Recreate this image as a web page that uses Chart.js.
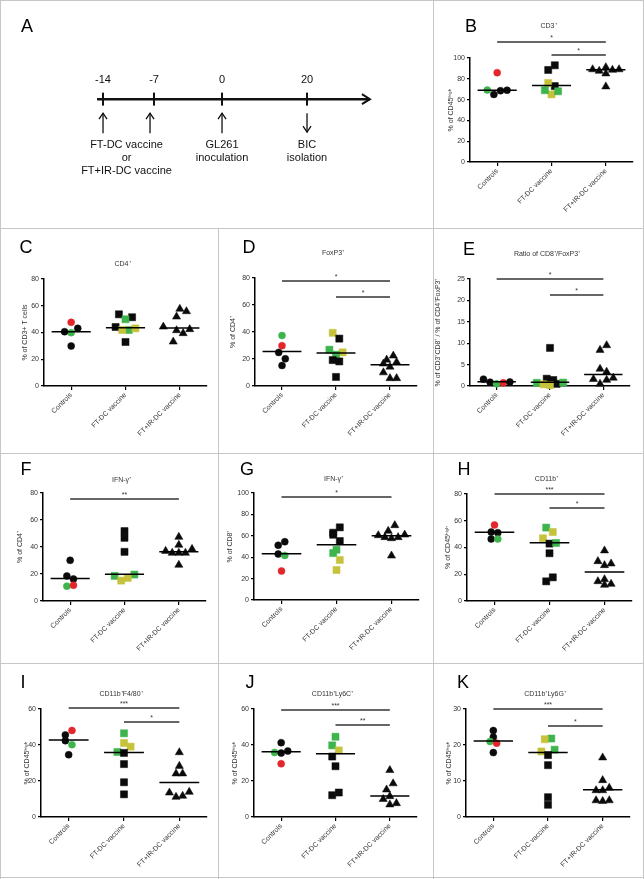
<!DOCTYPE html>
<html>
<head>
<meta charset="utf-8">
<script src="https://cdn.jsdelivr.net/npm/chart.js@4.4.1/dist/chart.umd.min.js"></script>
<style>
html,body{margin:0;padding:0;background:#fff;}
#fig{position:relative;width:644px;height:879px;overflow:hidden;background:#fff;}
.cell{position:absolute;}
.cell canvas{position:absolute;left:0;top:0;}
.ln{position:absolute;background:#c6c6c6;z-index:5;}
</style>
</head>
<body>
<div id="fig"></div>
<script>
// ---------------- DATA ----------------
const categories = ['Controls', 'FT-DC vaccine', 'FT+IR-DC vaccine'];
// each point: [value, colour code (k black, r red, g green, y yellow), jitter step]
const cd3Controls = [[69.2,'g',-3],[65.0,'k',-1],[68.6,'k',1],[69.0,'k',3],[85.9,'r',0]];
const cd3FTDC = [[88.5,'k',-1],[93.0,'k',1],[73.0,'k',1],[76.0,'y',-1],[65.0,'y',0],[69.0,'g',-2],[68.0,'g',2]];
const cd3FTIR = [[89.0,'k',-4],[87.5,'k',-2],[91.0,'k',0],[85.0,'k',0],[88.5,'k',2],[89.0,'k',4],[72.5,'k',0]];
const cd3Medians = [69.0, 73.5, 88.8];
const cd3Sig = [[0,2,'*'],[1,2,'*']];

const cd4Controls = [[47.6,'r',0],[39.9,'g',0],[40.6,'k',-2],[43.1,'k',2],[29.9,'k',0]];
const cd4FTDC = [[53.6,'k',-2],[51.4,'k',2],[44.1,'k',-3],[32.9,'k',0],[49.9,'g',0],[41.9,'g',1],[41.9,'y',-1],[43.1,'y',3]];
const cd4FTIR = [[57.6,'k',0],[55.8,'k',2],[51.8,'k',-1],[44.3,'k',-5],[41.6,'k',-1],[39.4,'k',1],[42.4,'k',3],[33.1,'k',-2]];
const cd4Medians = [40.5, 43.6, 43.4];
const cd4Sig = [];

const foxControls = [[37.4,'g',0],[29.9,'r',0],[24.9,'k',-1],[20.2,'k',1],[15.2,'k',0]];
const foxFTDC = [[39.4,'y',-1],[35.1,'k',1],[26.9,'g',-2],[24.9,'y',2],[23.2,'g',0],[19.2,'k',-1],[18.2,'k',1],[6.7,'k',0]];
const foxFTIR = [[22.4,'k',1],[19.4,'k',-1],[17.7,'k',2],[16.5,'k',-2],[14.2,'k',0],[10.0,'k',-2],[5.7,'k',0],[5.7,'k',2]];
const foxMedians = [25.5, 24.4, 15.7];
const foxSig = [[0,2,'*'],[1,2,'*']];

const ratioControls = [[1.6,'k',-4],[0.9,'k',-2],[0.5,'g',0],[0.75,'r',2],[0.95,'k',4]];
const ratioFTDC = [[8.9,'k',0],[1.7,'k',-1],[1.4,'k',1],[0.5,'k',2],[0.75,'g',-4],[0.8,'g',4],[0.4,'y',-2],[0.2,'y',0]];
const ratioFTIR = [[9.5,'k',1],[8.4,'k',-1],[4.0,'k',-1],[3.3,'k',1],[1.9,'k',3],[1.6,'k',-3],[1.4,'k',1],[0.5,'k',-1]];
const ratioMedians = [1.0, 0.9, 2.7];
const ratioSig = [[0,2,'*'],[1,2,'*']];

const ifn4Controls = [[30.1,'k',0],[18.5,'k',-1],[16.3,'k',1],[11.0,'g',-1],[11.7,'r',1]];
const ifn4FTDC = [[51.8,'k',0],[46.8,'k',0],[36.4,'k',0],[18.6,'g',-3],[19.6,'g',3],[15.1,'y',-1],[17.1,'y',1]];
const ifn4FTIR = [[47.4,'k',0],[41.5,'k',0],[37.0,'k',-4],[35.6,'k',-2],[35.6,'k',0],[35.6,'k',2],[38.5,'k',4],[26.7,'k',0]];
const ifn4Medians = [16.6, 19.8, 36.5];
const ifn4Sig = [[0,2,'**']];

const ifn8Controls = [[54.5,'k',1],[51.1,'k',-1],[43.0,'k',-1],[41.7,'g',1],[27.1,'r',0]];
const ifn8FTDC = [[67.9,'k',1],[62.9,'k',-1],[61.0,'k',-1],[55.1,'k',1],[47.0,'g',0],[43.9,'g',-1],[37.4,'y',1],[28.0,'y',0]];
const ifn8FTIR = [[69.8,'k',1],[64.5,'k',-1],[60.4,'k',-4],[58.6,'k',-2],[57.6,'k',0],[58.6,'k',2],[61.0,'k',4],[41.4,'k',0]];
const ifn8Medians = [43.3, 51.7, 60.1];
const ifn8Sig = [[0,2,'*']];

const cd11Controls = [[56.9,'r',0],[51.6,'k',-1],[51.1,'k',1],[46.4,'k',-1],[46.4,'g',1]];
const cd11FTDC = [[54.9,'g',-1],[51.6,'y',1],[46.9,'y',-2],[42.9,'k',0],[43.4,'g',2],[35.7,'k',0],[17.7,'k',1],[14.7,'k',-1]];
const cd11FTIR = [[37.7,'k',0],[29.7,'k',-2],[27.9,'k',2],[26.7,'k',0],[16.2,'k',0],[14.7,'k',-2],[12.0,'k',0],[12.7,'k',2]];
const cd11Medians = [51.4, 43.6, 21.7];
const cd11Sig = [[0,2,'***'],[1,2,'*']];

const f480Controls = [[48.1,'r',1],[45.6,'k',-1],[42.4,'k',-1],[40.2,'g',1],[34.6,'k',0]];
const f480FTDC = [[46.5,'g',0],[41.1,'y',0],[39.1,'y',2],[36.1,'g',-2],[35.6,'k',0],[29.4,'k',0],[19.3,'k',0],[12.6,'k',0]];
const f480FTIR = [[35.9,'k',0],[28.3,'k',0],[24.1,'k',-1],[24.1,'k',1],[13.5,'k',-3],[13.9,'k',3],[11.1,'k',-1],[11.7,'k',1]];
const f480Medians = [42.8, 35.9, 19.1];
const f480Sig = [[0,2,'***'],[1,2,'*']];

const ly6cControls = [[41.3,'k',0],[36.6,'k',2],[35.9,'g',-2],[35.5,'k',0],[29.6,'r',0]];
const ly6cFTDC = [[44.6,'g',0],[39.8,'g',-1],[37.0,'y',1],[33.6,'k',-1],[28.2,'k',0],[13.6,'k',1],[12.1,'k',-1]];
const ly6cFTIR = [[26.0,'k',0],[18.6,'k',1],[15.2,'k',-1],[11.5,'k',0],[9.9,'k',-2],[7.6,'k',2],[6.9,'k',0]];
const ly6cMedians = [36.2, 35.1, 11.7];
const ly6cSig = [[0,2,'***'],[1,2,'**']];

const ly6gControls = [[24.0,'k',0],[22.2,'k',0],[21.0,'g',-1],[20.5,'r',1],[17.9,'k',0]];
const ly6gFTDC = [[21.8,'g',1],[21.6,'y',-1],[18.7,'g',2],[18.2,'y',-2],[17.2,'k',0],[14.4,'k',0],[5.5,'k',0],[3.4,'k',0]];
const ly6gFTIR = [[16.5,'k',0],[10.2,'k',0],[8.1,'k',2],[7.4,'k',-2],[7.4,'k',0],[4.6,'k',-2],[4.4,'k',0],[4.6,'k',2]];
const ly6gMedians = [21.1, 17.9, 7.6];
const ly6gSig = [[0,2,'***'],[1,2,'*']];

const ticks100 = [0,20,40,60,80,100];
const ticks80 = [0,20,40,60,80];
const ticks60 = [0,20,40,60];
const ticks30 = [0,10,20,30];
const ticks25 = [0,5,10,15,20,25];

// timeline (panel A): tick labels with blank spacer slots
const timelineSlots = ['-14','','','-7','','','','0','','','','','20'];
const vaccineText = ['FT-DC vaccine','or','FT+IR-DC vaccine'];
const inoculationText = ['GL261','inoculation'];
const isolationText = ['BIC','isolation'];

// ---------------- LAYOUT / STYLE ----------------
const FONT = '"Liberation Sans", Arial, Helvetica, sans-serif';
Chart.defaults.font.family = FONT;
const COLORS = {k:'#0b0b0b', r:'#e2262b', g:'#3db44c', y:'#c7c23c'};
const SHAPES = [{style:'circle', r:3.5},{style:'rect', r:5},{style:'triangle', r:4.7}];

const panels = [
 {id:'B', cell:[433,0,211,228], plot:{l:470,t:58,r:633,b:162}, yTitleX:451, titleDy:-32, sigDy:[-16,-3], letter:[471,27],
  title:'CD3⁺', yTitle:'% of CD45ʰⁱᵍʰ', yMax:100, yTicks:ticks100, groups:[cd3Controls,cd3FTDC,cd3FTIR], medians:cd3Medians, sig:cd3Sig},
 {id:'C', cell:[0,228,218,225], plot:{l:44,t:279,r:207,b:386}, yTitleX:25, titleDy:-15, sigDy:[], letter:[26,248],
  title:'CD4⁺', yTitle:'% of CD3+ T cells', yMax:80, yTicks:ticks80, groups:[cd4Controls,cd4FTDC,cd4FTIR], medians:cd4Medians, sig:cd4Sig},
 {id:'D', cell:[218,228,215,225], plot:{l:255,t:278,r:417,b:386}, yTitleX:233, titleDy:-25, sigDy:[3,19], letter:[249,248],
  title:'FoxP3⁺', yTitle:'% of CD4⁺', yMax:80, yTicks:ticks80, groups:[foxControls,foxFTDC,foxFTIR], medians:foxMedians, sig:foxSig},
 {id:'E', cell:[433,228,211,225], plot:{l:470,t:279,r:630,b:386}, yTitleX:438, titleDy:-25, sigDy:[0,16], letter:[469,250],
  title:'Ratio of CD8⁺/FoxP3⁺', yTitle:'% of CD3⁺CD8⁺ / % of CD4⁺FoxP3⁺', yMax:25, yTicks:ticks25, groups:[ratioControls,ratioFTDC,ratioFTIR], medians:ratioMedians, sig:ratioSig},
 {id:'F', cell:[0,453,218,210], plot:{l:43,t:493,r:206,b:601}, yTitleX:20, titleDy:-13, sigDy:[6], letter:[26,470],
  title:'IFN-γ⁺', yTitle:'% of CD4⁺', yMax:80, yTicks:ticks80, groups:[ifn4Controls,ifn4FTDC,ifn4FTIR], medians:ifn4Medians, sig:ifn4Sig},
 {id:'G', cell:[218,453,215,210], plot:{l:254,t:493,r:419,b:600}, yTitleX:230, titleDy:-14, sigDy:[4], letter:[247,470],
  title:'IFN-γ⁺', yTitle:'% of CD8⁺', yMax:100, yTicks:ticks100, groups:[ifn8Controls,ifn8FTDC,ifn8FTIR], medians:ifn8Medians, sig:ifn8Sig},
 {id:'H', cell:[433,453,211,210], plot:{l:467,t:494,r:632,b:601}, yTitleX:448, titleDy:-15, sigDy:[0,14], letter:[464,470],
  title:'CD11b⁺', yTitle:'% of CD45ʰⁱᵍʰ', yMax:80, yTicks:ticks80, groups:[cd11Controls,cd11FTDC,cd11FTIR], medians:cd11Medians, sig:cd11Sig},
 {id:'I', cell:[0,663,218,216], plot:{l:41,t:709,r:207,b:817}, yTitleX:27, titleDy:-15, sigDy:[-1,13], letter:[23,683],
  title:'CD11b⁺F4/80⁺', yTitle:'% of CD45ʰⁱᵍʰ', yMax:60, yTicks:ticks60, groups:[f480Controls,f480FTDC,f480FTIR], medians:f480Medians, sig:f480Sig},
 {id:'J', cell:[218,663,215,216], plot:{l:254,t:709,r:417,b:817}, yTitleX:235, titleDy:-15, sigDy:[1,16], letter:[250,683],
  title:'CD11b⁺Ly6C⁺', yTitle:'% of CD45ʰⁱᵍʰ', yMax:60, yTicks:ticks60, groups:[ly6cControls,ly6cFTDC,ly6cFTIR], medians:ly6cMedians, sig:ly6cSig},
 {id:'K', cell:[433,663,211,216], plot:{l:466,t:709,r:630,b:817}, yTitleX:449, titleDy:-15, sigDy:[0,17], letter:[463,683],
  title:'CD11b⁺Ly6G⁺', yTitle:'% of CD45ʰⁱᵍʰ', yMax:30, yTicks:ticks30, groups:[ly6gControls,ly6gFTDC,ly6gFTIR], medians:ly6gMedians, sig:ly6gSig}
];

const fig = document.getElementById('fig');
function makeCanvas(cell){
  const d = document.createElement('div');
  d.className = 'cell';
  d.style.left = cell[0]+'px'; d.style.top = cell[1]+'px';
  d.style.width = cell[2]+'px'; d.style.height = cell[3]+'px';
  const c = document.createElement('canvas');
  c.width = cell[2]; c.height = cell[3];
  d.appendChild(c); fig.appendChild(d);
  return c;
}
[[0,0,644,1],[0,0,1,879],[643,0,1,879],[0,877,644,1],[433,0,1,879],[218,228,1,651],[0,228,644,1],[0,453,644,1],[0,663,644,1]]
 .forEach(([l,t,w,h])=>{const d=document.createElement('div');d.className='ln';d.style.left=l+'px';d.style.top=t+'px';d.style.width=w+'px';d.style.height=h+'px';fig.appendChild(d);});

// ---------------- DOT PLOT PANELS ----------------
panels.forEach(p=>{
  const [cx, cy, cw, ch] = p.cell;
  const canvas = makeCanvas(p.cell);
  const padLeft = p.yTitleX - cx - 4.2;
  const yWidth = p.plot.l - cx - padLeft;
  const xHeight = cy + ch - p.plot.b;
  const unitPx = (p.plot.r - p.plot.l) / 3;
  const jit = 3.3 / unitPx;
  const datasets = [];
  p.medians.forEach((m,g)=>{
    datasets.push({data:[{x:g+1-0.36,y:m},{x:g+1+0.36,y:m}], showLine:true, borderColor:'#000', borderWidth:1.5, pointRadius:0, clip:false});
  });
  p.groups.forEach((grp,g)=>{
    datasets.push({
      data: grp.map(([v,c,j])=>({x:g+1+j*jit, y:v})),
      pointStyle: SHAPES[g].style, pointRadius: SHAPES[g].r,
      pointBackgroundColor: grp.map(q=>COLORS[q[1]]),
      pointBorderColor: grp.map(q=>COLORS[q[1]]),
      pointBorderWidth: 0.5, clip:false
    });
  });
  const deco = {
    id:'deco'+p.id,
    afterDraw(chart){
      const {ctx, chartArea, scales:{x}} = chart;
      ctx.save();
      ctx.fillStyle = '#000';
      ctx.font = '18px ' + FONT;
      ctx.textAlign = 'center'; ctx.textBaseline = 'middle';
      ctx.fillText(p.id, p.letter[0]-cx, p.letter[1]-cy);
      ctx.fillStyle = '#333';
      ctx.font = '7px ' + FONT;
      ctx.fillText(p.title, x.getPixelForValue(2)-3, chartArea.top + p.titleDy);
      p.sig.forEach((s,i)=>{
        const y = chartArea.top + p.sigDy[i];
        const x1 = x.getPixelForValue(s[0]+1), x2 = x.getPixelForValue(s[1]+1);
        ctx.strokeStyle = '#333'; ctx.lineWidth = 1.4;
        ctx.beginPath(); ctx.moveTo(x1,y); ctx.lineTo(x2,y); ctx.stroke();
        ctx.textBaseline = 'alphabetic';
        ctx.fillText(s[2], (x1+x2)/2, y-2);
        ctx.textBaseline = 'middle';
      });
      ctx.restore();
    }
  };
  new Chart(canvas, {
    type:'scatter',
    data:{datasets},
    plugins:[deco],
    options:{
      animation:false, responsive:false, maintainAspectRatio:false,
      events:[],
      layout:{autoPadding:false, padding:{left:padLeft, top:p.plot.t-cy, right:cx+cw-p.plot.r, bottom:0}},
      plugins:{legend:{display:false}, tooltip:{enabled:false}},
      scales:{
        x:{type:'linear', min:0.5, max:3.5, bounds:'data',
           afterBuildTicks:s=>{s.ticks=[1,2,3].map(v=>({value:v}));},
           ticks:{callback:v=>categories[v-1], minRotation:45, maxRotation:45, autoSkip:false, font:{size:7}, color:'#333', padding:1},
           grid:{display:true, drawOnChartArea:false, drawTicks:true, tickLength:4, color:'#000', lineWidth:1.2},
           border:{display:true, color:'#000', width:1.5},
           afterFit:s=>{s.height=xHeight; s.paddingLeft=0; s.paddingRight=0;}},
        y:{type:'linear', min:0, max:p.yMax, bounds:'data',
           afterBuildTicks:s=>{s.ticks=p.yTicks.map(v=>({value:v}));},
           ticks:{font:{size:7}, color:'#333', padding:2},
           grid:{display:true, drawOnChartArea:false, drawTicks:true, tickLength:3, color:'#000', lineWidth:1.2},
           border:{display:true, color:'#000', width:1.5},
           title:{display:true, text:p.yTitle, font:{size:7}, color:'#333', padding:0},
           afterFit:s=>{s.width=yWidth; s.paddingTop=0; s.paddingBottom=0;}}
      }
    }
  });
});

// ---------------- PANEL A : TIMELINE ----------------
(function(){
  const cell = [0,0,433,228];
  const canvas = makeCanvas(cell);
  const slotIdx = lbl => timelineSlots.indexOf(lbl);
  const tickPoints = timelineSlots.map((l,i)=>l?{x:i,y:0}:null).filter(Boolean);
  const lastSlot = timelineSlots.length - 1;
  const deco = {
    id:'timelineDeco',
    afterDraw(chart){
      const {ctx, scales:{x,y}} = chart;
      const y0 = y.getPixelForValue(0);
      const px = l => x.getPixelForValue(slotIdx(l));
      ctx.save();
      ctx.fillStyle = '#000';
      ctx.font = '18px ' + FONT; ctx.textAlign='center'; ctx.textBaseline='middle';
      ctx.fillText('A', 27, 27);
      // main axis arrow head
      const xe = x.getPixelForValue(lastSlot + 3.7);
      ctx.strokeStyle = '#111'; ctx.lineWidth = 2; ctx.lineJoin='miter';
      ctx.beginPath(); ctx.moveTo(xe-8, y0-5); ctx.lineTo(xe, y0); ctx.lineTo(xe-8, y0+5); ctx.stroke();
      // day labels
      ctx.font = '11px ' + FONT; ctx.fillStyle = '#111';
      timelineSlots.forEach((l,i)=>{ if(l) ctx.fillText(l, x.getPixelForValue(i), y0-19); });
      // event arrows
      const arrow = (xx, yTail, yTip) => {
        const d = yTip < yTail ? 1 : -1;
        ctx.lineWidth = 1.3;
        ctx.beginPath(); ctx.moveTo(xx, yTail); ctx.lineTo(xx, yTip); ctx.stroke();
        ctx.beginPath(); ctx.moveTo(xx-4, yTip + d*6); ctx.lineTo(xx, yTip); ctx.lineTo(xx+4, yTip + d*6); ctx.stroke();
      };
      arrow(px('-14'), y0+34, y0+14);
      arrow(px('-7')-4, y0+34, y0+14);
      arrow(px('0'), y0+34, y0+14);
      arrow(px('20'), y0+14, y0+33);
      const block = (lines, xc) => lines.forEach((t,i)=>ctx.fillText(t, xc, y0+46+i*13));
      block(vaccineText, (px('-14') + px('-7') - 4)/2);
      block(inoculationText, px('0'));
      block(isolationText, px('20'));
      ctx.restore();
    }
  };
  new Chart(canvas, {
    type:'scatter',
    data:{datasets:[
      {data:[{x:-0.35,y:0},{x:lastSlot+3.7,y:0}], showLine:true, borderColor:'#111', borderWidth:2.5, pointRadius:0, clip:false},
      {data:tickPoints, pointStyle:'line', pointRotation:90, pointRadius:6.5, pointBorderWidth:2, pointBorderColor:'#111', clip:false}
    ]},
    plugins:[deco],
    options:{
      animation:false, responsive:false, maintainAspectRatio:false, events:[],
      layout:{autoPadding:false, padding:0},
      plugins:{legend:{display:false}, tooltip:{enabled:false}},
      scales:{
        x:{type:'linear', display:false, min:-6.06, max:19.41, bounds:'data'},
        y:{type:'linear', display:false, min:-1.3, max:1, bounds:'data'}
      }
    }
  });
})();
</script>
</body>
</html>
